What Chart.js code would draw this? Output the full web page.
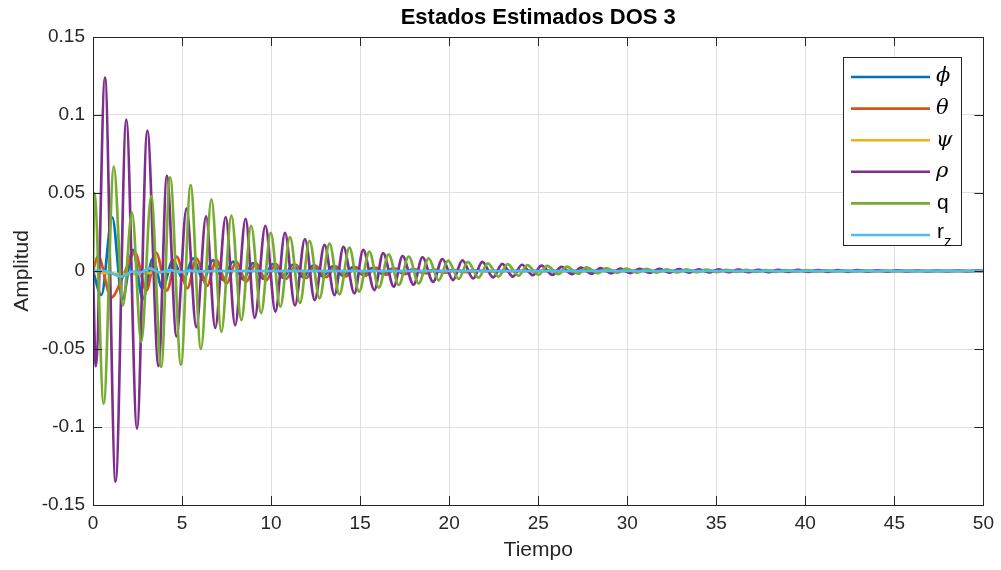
<!DOCTYPE html>
<html>
<head>
<meta charset="utf-8">
<script src="https://cdn.jsdelivr.net/npm/chart.js@4.4.1/dist/chart.umd.min.js"></script>
<style>
  body { margin: 0; background: #fff; }
  canvas { display: block; }
</style>
</head>
<body>
<canvas id="chart" width="1001" height="570"></canvas>
<script>
// tick values
const xTicks = [0, 5, 10, 15, 20, 25, 30, 35, 40, 45, 50];
const yTicks = [-0.15, -0.1, -0.05, 0, 0.05, 0.1, 0.15];

// series: [tiempo, amplitud] at turning points
const phiPts = [[0,0],[0.47,-0.0154],[1.08,0.0344],[1.65,-0.018],[2.24,0.0135],[2.8,-0.018],[3.36,0.008],[3.89,-0.011],[4.5,0.007],[5.07,-0.0058],[5.62,0.0081],[6.19,-0.0058],[6.74,0.007],[7.31,-0.0058],[7.86,0.006],[8.43,-0.0055],[8.98,0.005],[9.55,-0.005],[10.1,0.0045],[10.67,-0.0045],[11.22,0.004],[11.8,-0.004],[12.35,0.0035],[12.9,-0.0035],[13.47,0.003],[14.03,-0.003],[14.6,0.0025],[15.15,-0.0025],[15.7,0.002],[16.27,-0.002],[16.83,0.0015],[17.4,-0.0015],[17.95,0.001],[18.5,-0.001],[19.1,0.0008],[19.65,-0.0008],[20.2,0.0005],[20.8,-0.0005],[21.4,0.0003],[22,0],[50,0]];

const thetaPts = [[0,0],[0.28,0.0097],[1.03,-0.017],[1.7,-0.003],[2.35,0.012],[3.0,-0.0125],[3.55,0.0117],[4.15,-0.0125],[4.69,0.0092],[5.3,-0.011],[5.81,0.008],[6.4,-0.0095],[6.93,0.007],[7.5,-0.008],[8.05,0.006],[8.6,-0.007],[9.15,0.005],[9.72,-0.006],[10.27,0.0045],[10.85,-0.005],[11.4,0.004],[11.97,-0.0045],[12.5,0.0035],[13.1,-0.004],[13.63,0.003],[14.2,-0.0035],[14.75,0.0025],[15.3,-0.003],[15.9,0.002],[16.45,-0.0025],[17.0,0.0015],[17.55,-0.002],[18.1,0.001],[18.7,-0.0015],[19.25,0.0008],[19.8,-0.001],[20.4,0.0005],[21,-0.0007],[21.6,0.0003],[22.2,-0.0003],[23,0],[50,0]];

const psiPts = [[0,0],[0.6,-0.0012],[1.3,-0.0018],[2.0,-0.002],[2.8,-0.0015],[3.6,-0.0008],[4.5,-0.0003],[5.5,0],[50,0]];

const rhoPts = [[0,0],[0.16,-0.061],[0.67,0.124],[1.27,-0.135],[1.87,0.097],[2.47,-0.101],[3.05,0.090],[3.68,-0.061],[4.15,0.061],[4.69,-0.042],[5.25,0.040],[5.8,-0.036],[6.35,0.035],[6.86,-0.0365],[7.45,0.0345],[7.98,-0.0348],[8.57,0.0335],[9.08,-0.030],[9.68,0.029],[10.24,-0.026],[10.78,0.0245],[11.34,-0.022],[11.9,0.0205],[12.45,-0.0186],[13.0,0.0167],[13.56,-0.0155],[14.06,0.0155],[14.68,-0.0143],[15.17,0.0135],[15.8,-0.0122],[16.29,0.0115],[16.89,-0.0100],[17.38,0.0096],[18.0,-0.0088],[18.5,0.0088],[19.1,-0.0070],[19.62,0.0077],[20.22,-0.0058],[20.74,0.0068],[21.35,-0.0048],[21.86,0.0058],[22.47,-0.0041],[22.98,0.0046],[23.58,-0.0036],[24.08,0.0040],[24.7,-0.0027],[25.18,0.0034],[25.8,-0.0025],[26.3,0.0027],[26.9,-0.0020],[27.4,0.0022],[28.0,-0.0017],[28.5,0.0018],[29.1,-0.0015],[29.6,0.0016],[30.17,-0.0013],[30.7,0.0014],[31.28,-0.0012],[31.8,0.0013],[32.38,-0.0011],[32.9,0.0012],[33.5,-0.0010],[34.02,0.0011],[34.6,-0.0009],[35.13,0.0010],[35.72,-0.0008],[36.25,0.0009],[36.83,-0.0008],[37.36,0.0008],[37.95,-0.0007],[38.47,0.0007],[39.06,-0.0006],[39.58,0.0007],[40.18,-0.0006],[40.7,0.0006],[41.3,-0.0005],[41.82,0.0005],[42.4,-0.0005],[42.93,0.0005],[43.52,-0.0004],[44.05,0.0004],[44.63,-0.0004],[45.16,0.0004],[45.75,-0.0003],[46.28,0.0003],[46.86,-0.0003],[47.4,0.0003],[47.98,-0.0003],[48.5,0.0003],[49.1,-0.0002],[49.62,0.0002],[50,0]];

const qPts = [[0,0],[0.08,0.050],[0.6,-0.085],[1.17,0.067],[1.68,-0.022],[2.19,0.0375],[2.71,-0.0455],[3.27,0.048],[3.83,-0.0615],[4.33,0.060],[4.94,-0.060],[5.48,0.055],[6.06,-0.050],[6.65,0.046],[7.21,-0.039],[7.77,0.0355],[8.33,-0.0315],[8.88,0.029],[9.44,-0.027],[9.98,0.0245],[10.52,-0.023],[11.06,0.0218],[11.62,-0.0205],[12.16,0.0194],[12.72,-0.0175],[13.28,0.0175],[13.84,-0.0150],[14.4,0.0150],[14.94,-0.0132],[15.52,0.0124],[16.05,-0.0107],[16.6,0.0107],[17.17,-0.0090],[17.73,0.0093],[18.29,-0.0080],[18.85,0.0081],[19.41,-0.0060],[19.94,0.0066],[20.53,-0.0051],[21.05,0.0059],[21.65,-0.0043],[22.17,0.0049],[22.77,-0.0036],[23.28,0.0044],[23.9,-0.0030],[24.38,0.0038],[25.02,-0.0025],[25.5,0.0033],[26.14,-0.0020],[26.6,0.0028],[27.26,-0.0017],[27.7,0.0023],[28.38,-0.0014],[28.82,0.0019],[29.45,-0.0012],[29.95,0.0016],[30.55,-0.0011],[31.07,0.0013],[31.67,-0.0010],[32.2,0.0011],[32.78,-0.0009],[33.32,0.0010],[33.9,-0.0008],[34.43,0.0009],[35.02,-0.0007],[35.55,0.0008],[36.13,-0.0006],[36.66,0.0007],[37.25,-0.0006],[37.78,0.0006],[38.37,-0.0005],[38.9,0.0005],[39.48,-0.0004],[40.02,0.0005],[40.6,-0.0004],[41.13,0.0004],[41.72,-0.0003],[42.25,0.0003],[42.83,-0.0003],[43.37,0.0003],[43.95,-0.0002],[44.5,0.0002],[45.07,-0.0002],[45.6,0.0002],[46.2,-0.0001],[46.72,0.0001],[47.3,-0.0001],[47.85,0.0001],[48.4,0],[50,0]];

const rzPts = [[0,0.0005],[0.8,-0.0003],[1.59,-0.0036],[2.25,-0.0003],[2.65,-0.001],[3.18,0.0017],[3.74,-0.0008],[4.35,0.0005],[4.86,-0.0008],[5.4,0.0002],[6.0,-0.0003],[7,0],[50,0]];

const seriesNames = ['ϕ', 'θ', 'ψ', 'ρ', 'q', 'r'];
const seriesData = [phiPts, thetaPts, psiPts, rhoPts, qPts, rzPts];
const colors = ['#0072BD', '#D95319', '#EDB120', '#7E2F8E', '#77AC30', '#4DBEEE'];

const FONT = '"Liberation Sans", Arial, sans-serif';
const axisColor = '#262626';

function fmt(v) {
  const r = Math.round(v * 100) / 100;
  return r === 0 ? '0' : String(r);
}

// MATLAB-like box, inward ticks, title and legend
const decorPlugin = {
  id: 'decor',
  afterDatasetsDraw(chart) {
    const { ctx, chartArea: a, scales } = chart;
    ctx.save();
    ctx.strokeStyle = axisColor;
    ctx.lineWidth = 1;
    ctx.beginPath();
    const tl = 9;
    xTicks.forEach(v => {
      const px = Math.round(scales.x.getPixelForValue(v)) + 0.5;
      ctx.moveTo(px, a.bottom); ctx.lineTo(px, a.bottom - tl);
      ctx.moveTo(px, a.top); ctx.lineTo(px, a.top + tl);
    });
    yTicks.forEach(v => {
      const py = Math.round(scales.y.getPixelForValue(v)) + 0.5;
      ctx.moveTo(a.left, py); ctx.lineTo(a.left + tl, py);
      ctx.moveTo(a.right, py); ctx.lineTo(a.right - tl, py);
    });
    ctx.stroke();
    ctx.strokeRect(Math.round(a.left) + 0.5, Math.round(a.top) + 0.5,
      Math.round(a.right - a.left), Math.round(a.bottom - a.top));

    // title
    ctx.fillStyle = '#000';
    ctx.font = 'bold 22px ' + FONT;
    ctx.textAlign = 'center';
    ctx.textBaseline = 'middle';
    ctx.fillText('Estados Estimados DOS 3', (a.left + a.right) / 2, 18);

    // legend
    const bx = 843.5, by = 57.5, bw = 118, bh = 188;
    ctx.fillStyle = '#fff';
    ctx.fillRect(bx, by, bw, bh);
    ctx.strokeStyle = axisColor;
    ctx.strokeRect(bx, by, bw, bh);
    seriesNames.forEach((name, i) => {
      const y = 77 + i * 31.6;
      ctx.strokeStyle = colors[i];
      ctx.lineWidth = 2.6;
      ctx.beginPath();
      ctx.moveTo(851, y); ctx.lineTo(930, y);
      ctx.stroke();
      ctx.fillStyle = '#000';
      ctx.textAlign = 'left';
      ctx.textBaseline = 'middle';
      if (i < 4) {
        ctx.font = 'italic 21px "DejaVu Serif", serif';
        ctx.fillText(name, 936, y);
      } else if (i === 4) {
        ctx.font = '21px ' + FONT;
        ctx.fillText(name, 937, y);
      } else {
        ctx.font = '21px ' + FONT;
        ctx.fillText(name, 937, y - 3);
        ctx.font = '15px ' + FONT;
        ctx.fillText('z', 944, y + 7);
      }
    });
    ctx.restore();
  }
};

new Chart(document.getElementById('chart'), {
  type: 'line',
  data: {
    datasets: seriesData.map((pts, i) => ({
      label: seriesNames[i],
      data: pts.map(p => ({ x: p[0], y: p[1] })),
      borderColor: colors[i],
      borderWidth: 2.7,
      pointRadius: 0,
      fill: false,
      cubicInterpolationMode: 'monotone',
      borderJoinStyle: 'round',
      borderCapStyle: 'round',
      order: seriesData.length - i
    }))
  },
  options: {
    responsive: false,
    animation: false,
    devicePixelRatio: 1,
    layout: { padding: { left: 0, top: 37, right: 16, bottom: 0 } },
    plugins: {
      legend: { display: false },
      tooltip: { enabled: false },
      title: { display: false }
    },
    scales: {
      x: {
        type: 'linear',
        min: 0,
        max: 50,
        afterBuildTicks: s => { s.ticks = xTicks.map(v => ({ value: v })); },
        afterFit: s => { s.height = 65; },
        ticks: { font: { family: FONT, size: 19 }, color: axisColor, padding: 7, maxRotation: 0, callback: v => fmt(v) },
        grid: { color: '#dfdfdf', drawTicks: false, lineWidth: 1 },
        border: { display: false },
        title: { display: true, text: 'Tiempo', font: { family: FONT, size: 21 }, color: axisColor, padding: { top: 0, bottom: 7 } }
      },
      y: {
        type: 'linear',
        min: -0.15,
        max: 0.15,
        afterBuildTicks: s => { s.ticks = yTicks.map(v => ({ value: v })); },
        afterFit: s => { s.width = 93; },
        ticks: { font: { family: FONT, size: 19 }, color: axisColor, padding: 8, callback: v => fmt(v) },
        grid: { color: '#dfdfdf', drawTicks: false, lineWidth: 1 },
        border: { display: false },
        title: { display: true, text: 'Amplitud', font: { family: FONT, size: 21 }, color: axisColor, padding: { top: 10, bottom: 0 } }
      }
    }
  },
  plugins: [decorPlugin]
});
</script>
</body>
</html>
